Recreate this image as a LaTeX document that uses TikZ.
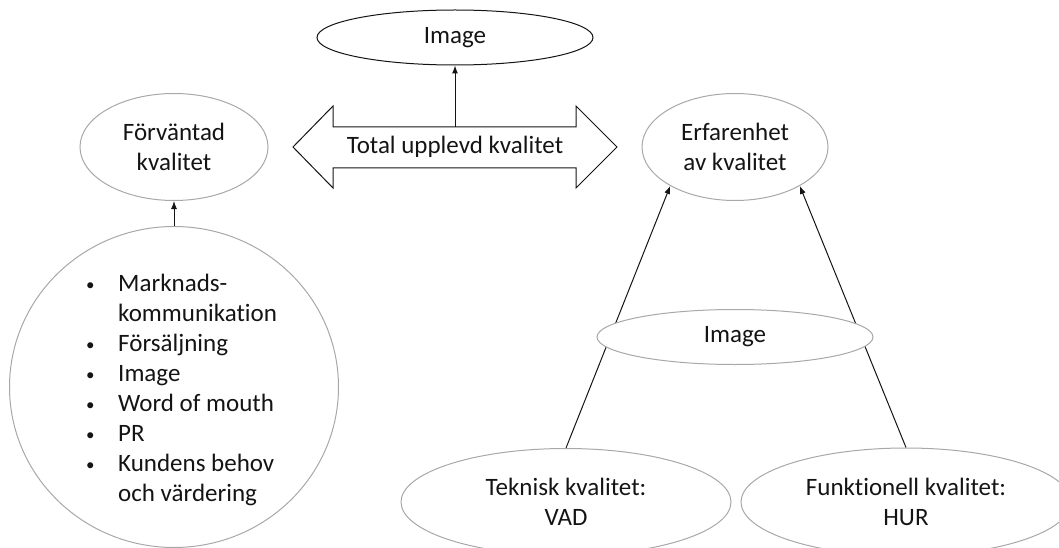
\documentclass[tikz,border=0pt]{standalone}
\usepackage{fontspec}
\setmainfont{Carlito}[Ligatures={NoCommon}]
\usetikzlibrary{shapes.geometric,arrows.meta}
\definecolor{ringgrey}{RGB}{168,168,168}
\definecolor{ink}{RGB}{20,20,20}
\newcommand{\bul}{\makebox[34pt][l]{\hspace{2pt}\raisebox{1pt}{\fontsize{17}{30}\selectfont •}}}
\tikzset{
  oval/.style={ellipse, draw=ringgrey, line width=1pt, inner sep=0pt, align=center, text=ink},
  conn/.style={draw=ink, line width=1pt, -{Latex[length=8pt,width=6pt]}},
  bigarrow/.style={draw=ink, line width=1pt, line join=miter},
}
\begin{document}
\begin{tikzpicture}[x=1pt, y=-1pt, font=\fontsize{25}{30}\selectfont]
\useasboundingbox (0,0) rectangle (1059,548);

% top image
\node[oval, draw=ink, minimum width=276pt, minimum height=55pt] (img) at (455,37.5) {Image};

% double arrow
\draw[bigarrow] (293,147) -- (333,106) -- (333,127) -- (576,127) -- (576,106) -- (617,147)
  -- (576,188) -- (576,168) -- (333,168) -- (333,188) -- cycle;
\node[text=ink, inner sep=0pt] (total) at (455,147) {Total upplevd kvalitet};
\coordinate (shafttop) at (455,127);

% left side
\node[oval, minimum width=188pt, minimum height=107pt] (forv) at (174,147) {Förväntad\\kvalitet};
\node[oval, minimum width=329pt, minimum height=321pt] (circ) at (174,387) {};
\node[anchor=west, inner sep=0pt, text=ink] (list) at (84,390) {%
\begin{tabular}{@{}l@{}l@{}}
\bul & Marknads-\\
 & kommunikation\\
\bul & Försäljning\\
\bul & Image\\
\bul & Word of mouth\\
\bul & PR\\
\bul & Kundens behov\\
 & och värdering
\end{tabular}};

% right side
\node[oval, minimum width=186pt, minimum height=107pt] (erf) at (735,147) {Erfarenhet\\av kvalitet};
\node[oval, minimum width=330pt, minimum height=107pt] (tek) at (566,502) {Teknisk kvalitet:\\VAD};
\node[oval, minimum width=330pt, minimum height=108pt] (fun) at (906,502) {Funktionell kvalitet:\\HUR};

% connectors
\draw[conn] (shafttop) -- (img.south);
\draw[conn] (circ.north) -- (forv.south);
\draw[conn] (tek.north) -- (erf.211);
\draw[conn] (fun.north) -- (erf.329);

% middle image on top of lines
\node[oval, fill=white, minimum width=276pt, minimum height=55pt] (mid) at (735,337) {Image};
\end{tikzpicture}
\end{document}
